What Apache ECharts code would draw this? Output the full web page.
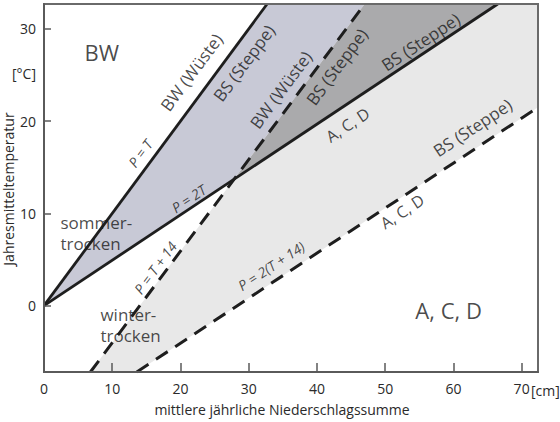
<!DOCTYPE html>
<html><head><meta charset="utf-8">
<script src="https://cdn.jsdelivr.net/npm/echarts@6/dist/echarts.min.js"></script>
<style>html,body{margin:0;padding:0;background:#fff}#c{width:560px;height:422px}</style>
</head><body><div id="c"></div>
<script>
// ---- data ----
const xTicks = [0, 10, 20, 30, 40, 50, 60, 70];
const yTicks = [0, 10, 20, 30];
const xRange = [0, 72.4];
const yRange = [-7.2, 32.7];
// boundary lines [x (cm), y (°C)]
const lineP_T   = [[0, 0], [32.7, 32.7]];
const lineP_2T  = [[0, 0], [66.5, 32.7]];
const lineP_T14 = [[6.8, -7.2], [47, 32.7]];
const lineP_2T14 = [[13.6, -7.2], [72.4, 21.5]];
// shaded regions
const regionBlue  = [[0, 0], [32.7, 32.7], [47, 32.7], [27.85, 13.7]];
const regionDark  = [[27.85, 13.7], [47, 32.7], [66.5, 32.7]];
const regionLight = [[6.8, -7.2], [27.85, 13.7], [66.5, 32.7], [72.4, 32.7], [72.4, 21.5], [13.6, -7.2]];
// annotation texts and anchor points
const annoTexts  = ['BW', 'BW (Wüste)', 'BS (Steppe)', 'BW (Wüste)', 'BS (Steppe)', 'BS (Steppe)', 'A, C, D',
                    'BS (Steppe)', 'A, C, D', 'P = 2(T + 14)', 'P = 2T', 'P = T + 14', 'P = T',
                    'sommer-\ntrocken', 'winter-\ntrocken', 'A, C, D'];
const annoPoints = [[8.47, 27.5], [21.6, 25.3], [29.3, 26.3], [34.7, 23.4], [42.9, 25.9], [55.2, 28.6], [44.5, 19.6],
                    [62.8, 19.3], [52.5, 10.2], [33.3, 4.3], [21.2, 11.6], [16.3, 4.1], [14.1, 16.5],
                    [2.4, 7.9], [8.27, -2.06], [59.3, -0.43]];

// ---- styling (separate from data) ----
const FONT = 'Open Sans';
const annoStyle = [
  {fs: 22, rot: 0}, {fs: 17, rot: 53.5}, {fs: 17, rot: 53.5}, {fs: 17, rot: 53.5}, {fs: 17, rot: 53.5},
  {fs: 17, rot: 33.5}, {fs: 16, rot: 33.5}, {fs: 17, rot: 33.4}, {fs: 16, rot: 33.4},
  {fs: 14, rot: 33.4, it: true}, {fs: 14, rot: 33.5, it: true}, {fs: 14, rot: 53.5, it: true}, {fs: 14, rot: 53.5, it: true},
  {fs: 17, rot: 0, align: 'left', lh: 21}, {fs: 17, rot: 0, align: 'left', lh: 21}, {fs: 22, rot: 0}
];

function polySeries(pts, color) {
  return {
    type: 'custom', coordinateSystem: 'cartesian2d', z: 1, silent: true, clip: true,
    data: [pts[0]],
    renderItem: (params, api) => ({
      type: 'polygon',
      shape: {points: pts.map(p => api.coord(p))},
      style: {fill: color}
    })
  };
}
function lineSeries(pts, dashed) {
  return {
    type: 'line', data: pts, z: 3, silent: true, showSymbol: false, symbol: 'none',
    lineStyle: {color: '#1e1e1e', width: dashed ? 3 : 2.8, type: dashed ? [14, 9] : 'solid', cap: 'butt'}
  };
}

const chart = echarts.init(document.getElementById('c'), null, {renderer: 'svg'});
chart.setOption({
  animation: false,
  backgroundColor: '#fff',
  textStyle: {fontFamily: FONT},
  grid: {left: 44, top: 4, width: 494, height: 368, show: true, z: 10,
         borderColor: '#6a6a6a', borderWidth: 2, backgroundColor: 'transparent'},
  xAxis: {
    type: 'value', min: xRange[0], max: xRange[1], z: 10,
    axisLine: {onZero: false, lineStyle: {color: '#5a5a5a', width: 2}},
    axisTick: {inside: true, length: 9, lineStyle: {color: '#5a5a5a', width: 1.5}, customValues: xTicks.slice(1)},
    axisLabel: {customValues: xTicks, fontSize: 14, color: '#2a2a2a', margin: 9, fontFamily: FONT},
    splitLine: {show: false}
  },
  yAxis: {
    type: 'value', min: yRange[0], max: yRange[1], z: 10,
    axisLine: {onZero: false, lineStyle: {color: '#5a5a5a', width: 2}},
    axisTick: {inside: true, length: 7, lineStyle: {color: '#5a5a5a', width: 1.5}, customValues: yTicks},
    axisLabel: {customValues: yTicks, fontSize: 14, color: '#2a2a2a', margin: 8, fontFamily: FONT},
    splitLine: {show: false}
  },
  graphic: [
    {type: 'text', x: 8, y: 189, rotation: Math.PI / 2, z: 20,
     style: {text: 'Jahresmitteltemperatur', fontSize: 14, fontFamily: FONT, fill: '#2a2a2a', align: 'center', verticalAlign: 'middle'}},
    {type: 'text', x: 24, y: 73, z: 20,
     style: {text: '[°C]', fontSize: 14, fontFamily: FONT, fill: '#2a2a2a', align: 'center', verticalAlign: 'middle'}},
    {type: 'text', x: 282, y: 409, z: 20,
     style: {text: 'mittlere jährliche Niederschlagssumme', fontSize: 14, fontFamily: FONT, fill: '#2a2a2a', align: 'center', verticalAlign: 'middle'}},
    {type: 'text', x: 531, y: 390, z: 20,
     style: {text: '[cm]', fontSize: 14, fontFamily: FONT, fill: '#2a2a2a', align: 'left', verticalAlign: 'middle'}}
  ],
  series: [
    polySeries(regionLight, '#e8e8e8'),
    polySeries(regionBlue, '#c8c9d6'),
    polySeries(regionDark, '#aaaaac'),
    lineSeries(lineP_T, false),
    lineSeries(lineP_2T, false),
    lineSeries(lineP_T14, true),
    lineSeries(lineP_2T14, true),
    {
      type: 'scatter', symbolSize: 0, z: 6, silent: true,
      data: annoPoints.map((p, i) => ({
        value: p,
        label: {
          show: true, position: 'inside', formatter: annoTexts[i],
          rotate: annoStyle[i].rot, fontSize: annoStyle[i].fs,
          fontStyle: annoStyle[i].it ? 'italic' : 'normal',
          align: annoStyle[i].align || 'center', verticalAlign: 'middle',
          lineHeight: annoStyle[i].lh || undefined,
          color: '#1a1a1a', fontFamily: FONT
        }
      }))
    }
  ]
});
</script></body></html>
